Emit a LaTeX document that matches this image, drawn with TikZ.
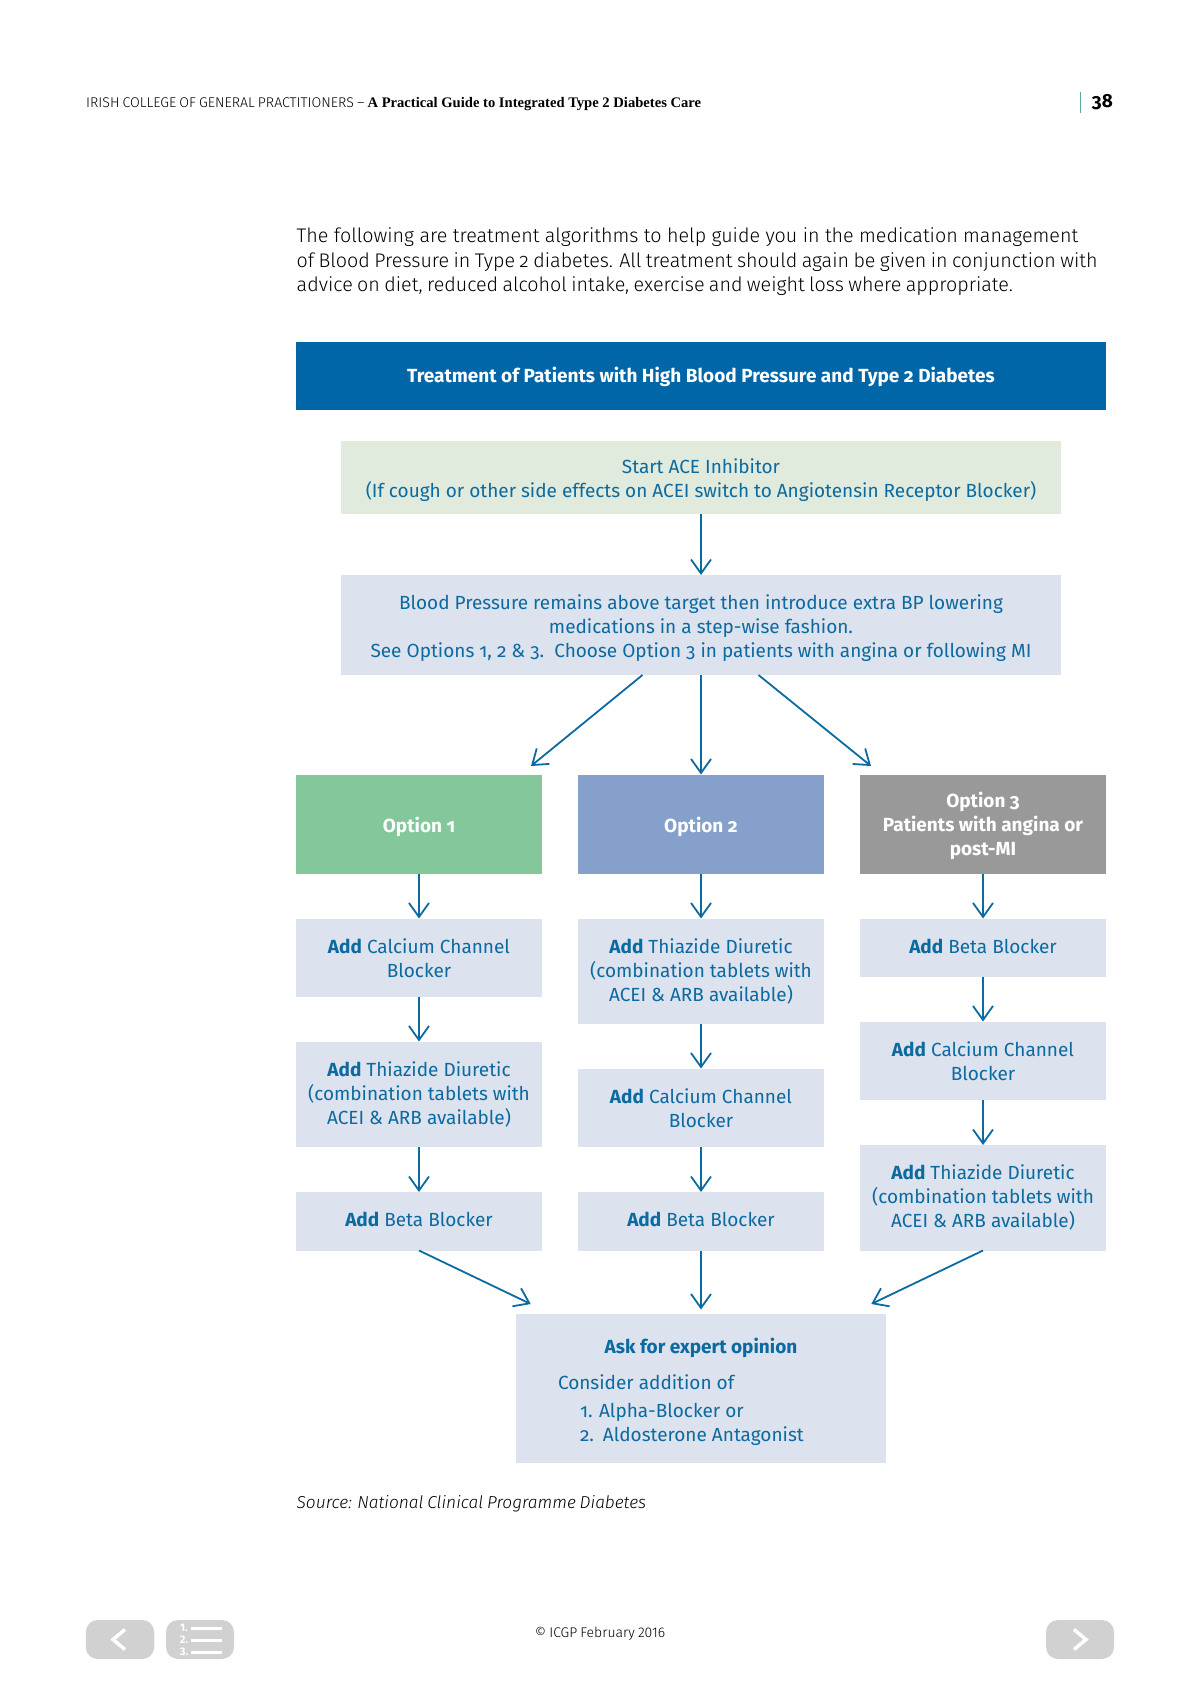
\documentclass[tikz,border=0pt]{standalone}
\usepackage{fontspec}
\setmainfont[Numbers=OldStyle]{Fira Sans}
\newfontfamily\lightfont[Numbers=OldStyle,WordSpace=0.8,ItalicFont={Fira Sans Light Italic}]{Fira Sans Light}
\newfontfamily\headfont{Liberation Serif}
\usetikzlibrary{arrows.meta}
\usetikzlibrary{positioning}
\definecolor{icgpblue}{HTML}{0066A8}
\definecolor{icgptext}{HTML}{0B6A9F}
\definecolor{startgreen}{HTML}{E0EBDD}
\definecolor{stepblue}{HTML}{DCE2EE}
\definecolor{optgreen}{HTML}{84C79A}
\definecolor{optblue}{HTML}{84A0CB}
\definecolor{optgrey}{HTML}{999999}
\definecolor{navgrey}{HTML}{D1D1D1}
\tikzset{>={Straight Barb[length=14pt,width=20pt]},
  flowbox/.style={rectangle,inner sep=0pt,outer sep=0pt,fill=stepblue,text=icgptext,
    align=flush center,font=\fontsize{19}{24}\selectfont},
  stepbox/.style={flowbox,minimum width=246pt,text width=240pt},
  widebox/.style={flowbox,minimum width=720pt,text width=716pt},
  optbox/.style={stepbox,minimum height=99pt,text=white,font=\fontsize{19}{24}\selectfont\bfseries},
  navbox/.style={rectangle,rounded corners=12pt,fill=navgrey,minimum height=39pt,inner sep=0pt},
  navline/.style={draw=white,line width=3.5pt},
  flowline/.style={draw=icgptext,line width=1.8pt},
  % baseline of the block, down from the middle of the box
  textat/.style={execute at begin node={\rule{0pt}{\dimexpr 20pt+#1pt\relax}},
    execute at end node={\rule[\dimexpr #1pt-20pt\relax]{0pt}{0pt}}}}

\begin{document}
\begin{tikzpicture}[x=1pt,y=-1pt]
    \useasboundingbox (0,0) rectangle (1200,1696);
    % page header
    \node (running) [anchor=west,inner sep=0pt] at (86,104.5) {\lightfont\fontsize{14.1}{16}\selectfont IRISH COLLEGE OF GENERAL PRACTITIONERS – \headfont\fontsize{14.6}{16}\selectfont\bfseries A Practical Guide to Integrated Type 2 Diabetes Care};
    \node (pageno) [anchor=east,inner sep=0pt,font=\fontsize{19}{24}\selectfont\bfseries] at (1113,102) {38};
    \coordinate (ticktop) at (1080.5,92);
    \coordinate (tickbot) at (1080.5,113);
    \draw[draw=optgreen!70!icgpblue,line width=1pt] (ticktop) -- (tickbot);
    \node (intro) [anchor=north west,inner sep=0pt,align=left,font=\lightfont\fontsize{19.7}{24.4}\selectfont] at (296.5,227.8) {{\spaceskip=5.4pt The following are treatment algorithms to help guide you in the medication management}\\of Blood Pressure in Type 2 diabetes. All treatment should again be given in conjunction with\\advice on diet, reduced alcohol intake, exercise and weight loss where appropriate.};

    % top of the chart
    \node (title) [flowbox,fill=icgpblue,text=white,minimum width=810pt,text width=800pt,minimum height=68pt,font=\fontsize{19}{24}\selectfont\bfseries,textat=6] at (701,376) {Treatment of Patients with High Blood Pressure and Type 2 Diabetes};
    \node (start) [widebox,fill=startgreen,minimum height=73pt,below=31pt of title,textat=7.5] {Start ACE Inhibitor\\(If cough or other side effects on ACEI switch to Angiotensin Receptor Blocker)};
    \node (bp) [widebox,minimum height=100pt,below=61pt of start,textat=8] {Blood Pressure remains above target then introduce extra BP lowering\\medications in a step-wise fashion.\\See Options 1, 2 \& 3.\ \ Choose Option 3 in patients with angina or following MI};

    % options
    \node (opt2) [optbox,fill=optblue,below=99.5pt of bp,textat=8.4] {Option 2};
    \node (opt1) [optbox,fill=optgreen,left=36pt of opt2,textat=8.4] {Option 1};
    \node (opt3) [optbox,fill=optgrey,right=36pt of opt2,textat=7.5] {Option 3\\Patients with angina or\\post-MI};

    % option 1
    \node (o1a) [stepbox,minimum height=78pt,below=45pt of opt1,textat=8.2] {\textbf{Add} Calcium Channel\\Blocker};
    \node (o1b) [stepbox,minimum height=105.5pt,below=45pt of o1a,textat=6.3] {\textbf{Add} Thiazide Diuretic\\(combination tablets with\\ACEI \& ARB available)};
    \node (o1c) [stepbox,minimum height=58.5pt,below=45pt of o1b,textat=5] {\textbf{Add} Beta Blocker};
    % option 2
    \node (o2a) [stepbox,minimum height=105pt,below=45pt of opt2,textat=6.8] {\textbf{Add} Thiazide Diuretic\\(combination tablets with\\ACEI \& ARB available)};
    \node (o2b) [stepbox,minimum height=78.5pt,below=45pt of o2a,textat=8.2] {\textbf{Add} Calcium Channel\\Blocker};
    \node (o2c) [stepbox,minimum height=58.5pt,below=45pt of o2b,textat=5] {\textbf{Add} Beta Blocker};
    % option 3
    \node (o3a) [stepbox,minimum height=58pt,below=45pt of opt3,textat=6] {\textbf{Add} Beta Blocker};
    \node (o3b) [stepbox,minimum height=78.5pt,below=45pt of o3a,textat=8.2] {\textbf{Add} Calcium Channel\\Blocker};
    \node (o3c) [stepbox,minimum height=105.5pt,below=45pt of o3b,textat=6] {\textbf{Add} Thiazide Diuretic\\(combination tablets with\\ACEI \& ARB available)};

    \node (expert) [flowbox,align=flush left,minimum width=369.5pt,text width=286pt,minimum height=149.5pt,below=63pt of o2c,textat=9] {\makebox[\linewidth][c]{\bfseries Ask for expert opinion}\\[12.3pt]Consider addition of\\[4.2pt]\hspace*{22pt}1.\hspace{6.5pt}Alpha-Blocker or\\\hspace*{22pt}2.\hspace{9pt}Aldosterone Antagonist};

    \node (source) [anchor=west,inner sep=0pt,font=\lightfont\itshape\fontsize{17.3}{24}\selectfont] at (296.5,1503.5) {Source: National Clinical Programme Diabetes};

    % connectors
    \coordinate (bpleft) at ([xshift=-58.5pt]bp.south);
    \coordinate (bpright) at ([xshift=57.5pt]bp.south);
    \coordinate (tipleft) at ([shift={(-11,-8.5)}]opt1.north east);
    \coordinate (tipright) at ([shift={(11,-8.5)}]opt3.north west);
    \coordinate (botleft) at ([shift={(14.5,-9.5)}]expert.north west);
    \coordinate (botright) at ([shift={(-14.5,-9.5)}]expert.north east);
    \draw[->,flowline] (start) -- (bp);
    \draw[->,flowline] (bp) -- (opt2);
    \draw[->,flowline] (bpleft) -- (tipleft);
    \draw[->,flowline] (bpright) -- (tipright);
    \draw[->,flowline] (opt1) -- (o1a);
    \draw[->,flowline] (o1a) -- (o1b);
    \draw[->,flowline] (o1b) -- (o1c);
    \draw[->,flowline] (opt2) -- (o2a);
    \draw[->,flowline] (o2a) -- (o2b);
    \draw[->,flowline] (o2b) -- (o2c);
    \draw[->,flowline] (opt3) -- (o3a);
    \draw[->,flowline] (o3a) -- (o3b);
    \draw[->,flowline] (o3b) -- (o3c);
    \draw[->,flowline] (o1c.south) -- (botleft);
    \draw[->,flowline,shorten >=4pt] (o2c) -- (expert);
    \draw[->,flowline] (o3c.south) -- (botright);

    % footer
    \node (copyright) [inner sep=0pt,font=\lightfont\addfontfeatures{Numbers=Lining}\fontsize{14}{16}\selectfont] at (600,1634) {\textcopyright{} ICGP February 2016};
    \node (back) [navbox,minimum width=68.5pt] at (120,1639.5) {};
    \node (menu) [navbox,minimum width=68pt] at (200,1639.5) {};
    \node (next) [navbox,minimum width=68pt] at (1080,1639.5) {};
    \draw[navline] ([shift={(5,-10)}]back.center) -- ([shift={(-7,0)}]back.center) -- ([shift={(5,10)}]back.center);
    \draw[navline] ([shift={(-6,-10)}]next.center) -- ([shift={(6,0)}]next.center) -- ([shift={(-6,10)}]next.center);
    \foreach \row/\rowy in {1/-11.5,2/0.5,3/12.5} {
      \node (num\row) [text=white,inner sep=0pt,font=\fontsize{11}{11}\selectfont\bfseries\addfontfeatures{Numbers=Lining}] at ([shift={(-16,\rowy)}]menu.center) {\row.};
      \draw[draw=white,line width=3pt] ([shift={(-9,\rowy)}]menu.center) -- ([shift={(22,\rowy)}]menu.center);
    }
\end{tikzpicture}
\end{document}
